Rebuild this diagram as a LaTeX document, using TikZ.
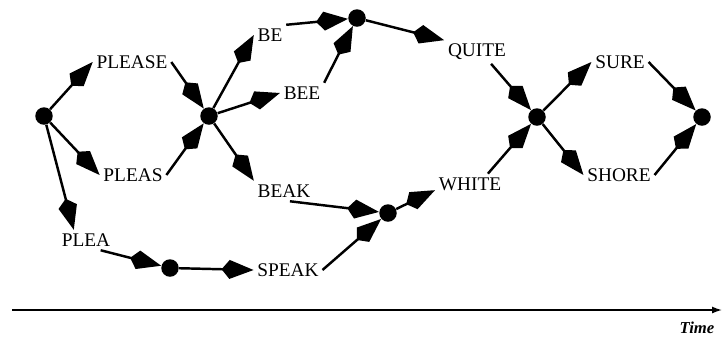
\documentclass[tikz,border=0pt]{standalone}
\usepackage{fontspec}
\setmainfont{Liberation Serif}
\usetikzlibrary{arrows.meta}

\tikzset{
  dot/.style={circle, fill, inner sep=0pt, minimum size=0.35cm},
  word/.style={inner sep=2pt, font=\fontsize{11}{13}\selectfont},
  link/.style={line width=1.4pt, -{Kite[length=0.64cm, width=0.38cm, inset=0.16cm]}},
}

\begin{document}
\begin{tikzpicture}[x=0.02cm, y=-0.02cm]
        \useasboundingbox (0, 0) rectangle (724, 336);

        \node[dot] (a) at (44, 116) {};
        \node[dot] (b) at (209, 116) {};
        \node[dot] (c) at (170, 268) {};
        \node[dot] (d) at (388, 213) {};
        \node[dot] (e) at (357, 18) {};
        \node[dot] (f) at (537, 117) {};
        \node[dot] (g) at (702, 117) {};

        \node[word] (please) at (132, 62) {PLEASE};
        \node[word] (pleas) at (133, 175) {PLEAS};
        \node[word] (plea) at (86, 240) {PLEA};
        \node[word] (be) at (270, 35) {BE};
        \node[word] (bee) at (302, 93) {BEE};
        \node[word] (beak) at (284, 191) {BEAK};
        \node[word] (speak) at (288, 270) {SPEAK};
        \node[word] (quite) at (477, 52) {QUITE};
        \node[word] (white) at (470, 184) {WHITE};
        \node[word] (sure) at (620, 62) {SURE};
        \node[word] (shore) at (619, 175) {SHORE};

        % first part of the word
        \draw[link] (a) -- (please.west);
        \draw[link] (a) -- (pleas.west);
        \draw[link] (a) -- (plea.140);
        \draw[link] (please.east) -- (b);
        \draw[link] (pleas.east) -- (b);
        \draw[link] (plea.-35) -- (c);
        \draw[link] (c) -- (speak.west);
        \draw[link] (speak.east) -- (d);
        \draw[link] (beak.-60) -- (d);

        \draw[link] (b) -- (be.west);
        \draw[link] (b) -- (bee.west);
        \draw[link] (b) -- (beak.north west);
        \draw[link] (be.north east) -- (e);
        \draw[link] (bee.north east) -- (e);

        % second part
        \draw[link] (e) -- (quite.north west);
        \draw[link] (quite.-40) -- (f);
        \draw[link] (d) -- (white.190);
        \draw[link] (white.30) -- (f);
        \draw[link] (f) -- (sure.west);
        \draw[link] (f) -- (shore.west);
        \draw[link] (sure.east) -- (g);
        \draw[link] (shore.east) -- (g);

        \coordinate (t0) at (12, 310);
        \coordinate (t1) at (722, 310);
        \draw[line width=0.8pt, -{Latex[length=0.2cm, width=0.14cm]}] (t0) -- (t1);
        \node[font=\fontsize{9.5}{11}\selectfont\bfseries\itshape, inner sep=0pt] (time) at (697, 328) {Time};
    \end{tikzpicture}
\end{document}
